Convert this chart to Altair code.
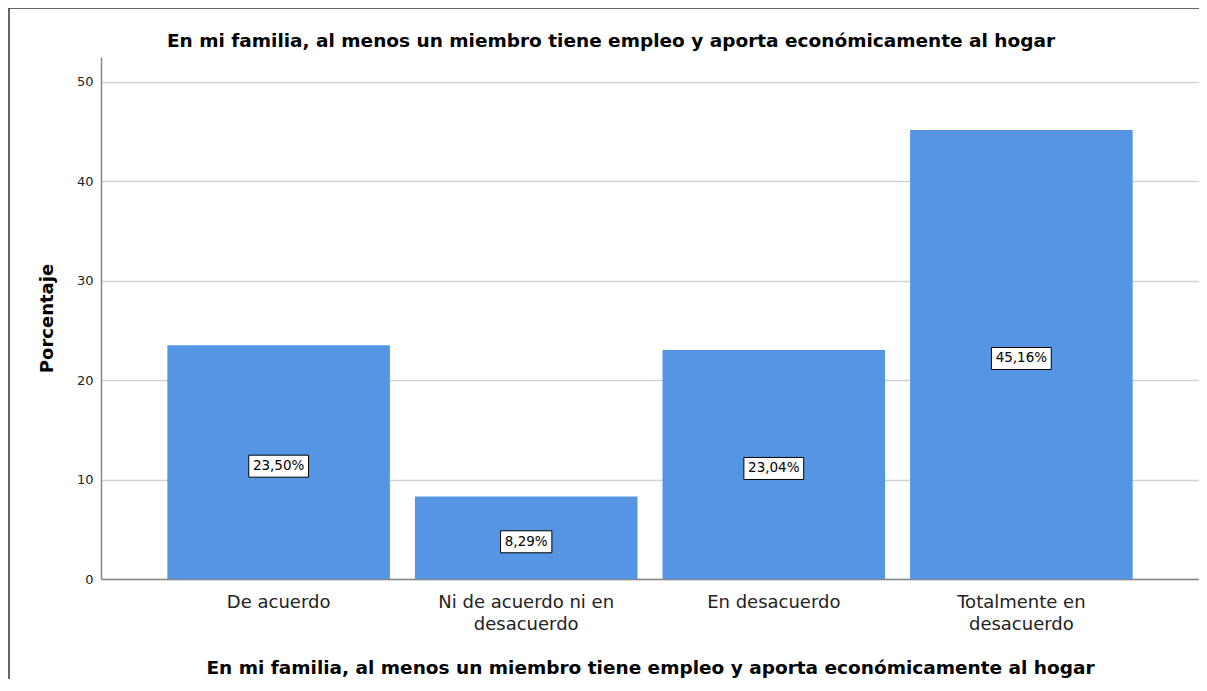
import altair as alt
import pandas as pd

categories = ["De acuerdo", "Ni de acuerdo ni en desacuerdo", "En desacuerdo", "Totalmente en desacuerdo"]
values = [23.50, 8.29, 23.04, 45.16]
label_lines = {
    "Ni de acuerdo ni en desacuerdo": ["Ni de acuerdo ni en", "desacuerdo"],
    "Totalmente en desacuerdo": ["Totalmente en", "desacuerdo"],
}
y_ticks = [0, 10, 20, 30, 40, 50]
title_text = "En mi familia, al menos un miembro tiene empleo y aporta económicamente al hogar"

FONT = "DejaVu Sans"
BLUE = "#5595e3"

labels = [f"{v:.2f}".replace(".", ",") + "%" for v in values]
df = pd.DataFrame({
    "cat": categories,
    "val": values,
    "mid": [v / 2 for v in values],
    "lab": labels,
    "boxw": [(len(s) - 2) * 8.5 + 4.2 + 12.6 + 9 for s in labels],
})

expr = "datum.label"
for k, v in label_lines.items():
    arr = "[" + ", ".join("'" + s + "'" for s in v) + "]"
    expr = f"datum.label == '{k}' ? {arr} : ({expr})"

W, H = 1098, 522

x_axis = alt.Axis(title=title_text, labelAngle=0, labelExpr=expr,
                  labelFont=FONT, labelFontSize=18, labelColor="#222",
                  labelPadding=14, labelLineHeight=22, labelBaseline="top",
                  ticks=False, domainColor="#888", domainWidth=1.5, grid=False,
                  titleFont=FONT, titleFontSize=18.5, titleFontWeight="bold",
                  titleColor="#000", titlePadding=25)
y_axis = alt.Axis(title="Porcentaje", values=y_ticks, ticks=False,
                  labelFont=FONT, labelFontSize=13, labelColor="#222",
                  labelPadding=8, domainColor="#888", domainWidth=1.5,
                  gridColor="#d2d2d2", gridWidth=1.5,
                  titleFont=FONT, titleFontSize=18, titleFontWeight="bold",
                  titleColor="#000", titlePadding=20)
x_scale = alt.Scale(paddingInner=0.101, paddingOuter=0.268)
y_scale = alt.Scale(domain=[0, 52.5], nice=False, zero=True)

base = alt.Chart(df)

bars = base.mark_bar(color=BLUE).encode(
    x=alt.X("cat:N", sort=categories, scale=x_scale, axis=x_axis),
    y=alt.Y("val:Q", scale=y_scale, axis=y_axis),
)

boxes = base.mark_bar(fill="white", stroke="#000", strokeWidth=1, yOffset=-7, y2Offset=15).encode(
    x=alt.X("cat:N", sort=categories, scale=x_scale, axis=x_axis),
    y=alt.Y("mid:Q", scale=y_scale, axis=y_axis),
    y2="mid:Q",
    size=alt.Size("boxw:Q", scale=None, legend=None),
)

texts = base.mark_text(font=FONT, fontSize=13.5, color="#000", baseline="middle", align="center", dy=4).encode(
    x=alt.X("cat:N", sort=categories, scale=x_scale, axis=x_axis),
    y=alt.Y("mid:Q", scale=y_scale, axis=y_axis),
    text="lab:N",
)

one = alt.Chart(pd.DataFrame({"t": [title_text]}))

frame_top = one.mark_rule(stroke="#333", strokeWidth=1.5).encode(
    x=alt.value(-92), x2=alt.value(W + 40), y=alt.value(-49)
)
frame_left = one.mark_rule(stroke="#333", strokeWidth=1.5).encode(
    x=alt.value(-92), y=alt.value(-49), y2=alt.value(H + 160)
)

title = one.mark_text(font=FONT, fontSize=18.5, fontWeight="bold", color="#000",
                      align="center", baseline="middle").encode(
    x=alt.value(510), y=alt.value(-16), text="t:N"
)

chart = alt.layer(frame_top, frame_left, bars, boxes, texts, title).properties(
    width=W, height=H,
    background="white",
    view=alt.ViewBackground(stroke="transparent", strokeWidth=0),
    autosize=alt.AutoSizeParams(type="none"),
    padding={"left": 93, "top": 49, "right": 0, "bottom": 100},
).configure_view(strokeWidth=0, stroke="transparent")

chart.save("out.html", embed_options={"renderer": "svg", "actions": False})
